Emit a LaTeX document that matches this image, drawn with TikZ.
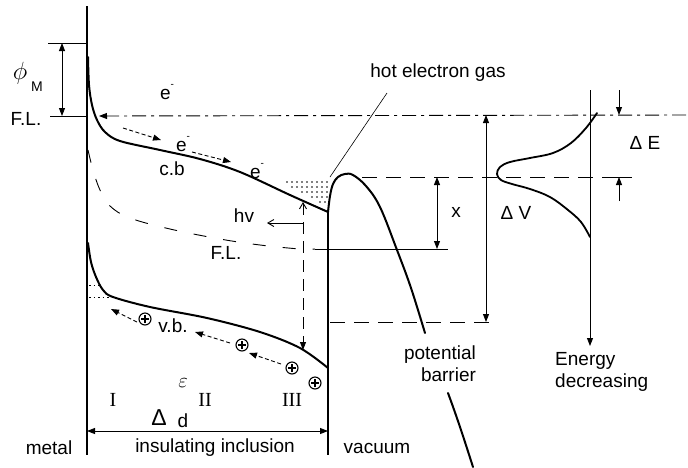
\documentclass[tikz,border=0pt]{standalone}
\usepackage{fontspec}
\setmainfont{Liberation Sans}
\newfontfamily\tnr{Liberation Serif}
\usetikzlibrary{arrows.meta}
\begin{document}
\begin{tikzpicture}[x=1pt,y=-1pt,
  txt/.style={font=\fontsize{19}{22}\selectfont, inner sep=0pt, text=black},
  ser/.style={font=\tnr\fontsize{20}{22}\selectfont, inner sep=0pt},
  band/.style={line width=2pt, line join=round, line cap=round},
  fine/.style={line width=0.9pt},
  fa/.style={-{Triangle[length=8pt,width=6pt]}},
  dfa/.style={{Triangle[length=8pt,width=6pt]}-{Triangle[length=8pt,width=6pt]}},
  dshort/.style={dash pattern=on 4pt off 2.5pt},
  dlong/.style={dash pattern=on 15pt off 9pt},
  dfl/.style={dash pattern=on 13pt off 17pt},
  dashdot/.style={dash pattern=on 14pt off 5pt on 3pt off 5pt},
  hole/.style={circle, draw, line width=1.1pt, minimum size=12pt, inner sep=0pt,
    path picture={\draw[line width=1.1pt] ([xshift=-4pt]path picture bounding box.center) -- ([xshift=4pt]path picture bounding box.center);
                  \draw[line width=1.1pt] ([yshift=-4pt]path picture bounding box.center) -- ([yshift=4pt]path picture bounding box.center);}},
]
\fill[white] (0,0) rectangle (688,467);
\useasboundingbox (0,0) rectangle (688,467);

% walls
\coordinate (mwT) at (87,6);
\coordinate (mwB) at (87,455);
\draw[line width=1.5pt] (mwT) -- (mwB);
\coordinate (iwT) at (328,212);
\coordinate (iwB) at (328,455);
\draw[line width=2pt] (iwT) -- (iwB);

% phi_M
\coordinate (phT) at (48,43);
\coordinate (phTw) at (87,43);
\draw[fine] (phT) -- (phTw);
\coordinate (phA) at (62,43);
\coordinate (phB) at (62,116);
\draw[fine,dfa] (phA) -- (phB);
\node[txt,font=\fontsize{25}{25}\selectfont] (phi) at (20,73) {$\phi$};
\node[txt,font=\fontsize{14}{16}\selectfont] (phiM) at (37,87) {M};

% metal Fermi level
\node[txt] (fl1) at (26,119) {F.L.};
\coordinate (flS) at (50,116);
\coordinate (flW) at (87,116);
\draw[fine] (flS) -- (flW);
\coordinate (flE) at (686,115);
\coordinate (flT) at (99,116);
\draw[fine,dashdot,fa] (flE) -- (flT);

% conduction band
\draw[band] plot[smooth,tension=0.55] coordinates {(88,57) (89,85) (92,105) (97,120) (105,132) (120,141) (160,150) (200,159) (240,172) (290,195) (328,212)};
\coordinate (a1s) at (123,128); \coordinate (a1e) at (161,140);
\draw[fine,dshort,fa] (a1s) -- (a1e);
\coordinate (a2s) at (192,152); \coordinate (a2e) at (231,162);
\draw[fine,dshort,fa] (a2s) -- (a2e);
\node[txt] (e1) at (167,92) {e\raisebox{1.2ex}{\fontsize{10}{10}\selectfont -}};
\node[txt] (e2) at (183,144) {e\raisebox{1.2ex}{\fontsize{10}{10}\selectfont -}};
\node[txt] (e3) at (257,171) {e\raisebox{1.2ex}{\fontsize{10}{10}\selectfont -}};
\node[txt] (cb) at (172,169) {c.b};

% hot electron gas
\node[txt] (heg) at (438,73) {hot electron gas};
\coordinate (hl1) at (387,93);
\coordinate (hl2) at (330,177);
\draw[line width=0.6pt] (hl1) -- (hl2);
\foreach \x in {287,292,...,327} \fill (\x,182) circle (0.8);
\foreach \x in {292,297,...,327} \fill (\x,187) circle (0.8);
\foreach \x in {302,307,...,327} \fill (\x,192) circle (0.8);
\foreach \x in {312,317,...,327} \fill (\x,197) circle (0.8);
\foreach \x in {320,325} \fill (\x,202) circle (0.8);

% potential barrier
\draw[band] plot[smooth,tension=0.6] coordinates {(328,212) (330,196) (333,184) (338,177) (345,174) (353,175) (366,186) (380,207) (397,250) (411,288) (425,333)};
\draw[band] (448,393) .. controls (458,420) and (465,442) .. (473,467);
\node[txt,align=right] (pb) at (440,364) {potential\\barrier};

% levels
\coordinate (d1s) at (362,177);
\coordinate (d1e) at (617,177);
\draw[fine,dlong] (d1s) -- (d1e);
\coordinate (t1) at (632,177);
\draw[fine] (d1e) -- (t1);
\coordinate (xa) at (437,177);
\coordinate (xb) at (437,249);
\draw[fine,dfa] (xa) -- (xb);
\node[txt] (xl) at (456,212) {x};
\coordinate (s1) at (315,249);
\coordinate (s2) at (448,249);
\draw[fine] (s1) -- (s2);
\coordinate (d2s) at (330,322);
\coordinate (d2e) at (497,322);
\draw[fine,dlong] (d2s) -- (d2e);
\coordinate (va) at (486,115);
\coordinate (vb) at (486,322);
\draw[fine,dfa] (va) -- (vb);
\node[txt] (dv) at (516,213) {Δ V};

% distribution
\draw[band,line width=1.8pt] plot[smooth,tension=0.6] coordinates {(597,113) (586,128) (571,143) (553,153) (530,158) (510,162) (500,167) (497,174) (501,180) (512,184) (530,189) (550,197) (568,210) (581,222) (590,237)};

% energy axis
\coordinate (ea) at (590,90);
\coordinate (eb) at (590,346);
\draw[fine,fa] (ea) -- (eb);
\node[txt,align=left,anchor=north west] (en) at (555,352) {Energy\\decreasing};

% Delta E
\coordinate (de1) at (619,90);
\coordinate (de2) at (619,115);
\draw[fine,fa] (de1) -- (de2);
\coordinate (de3) at (619,201);
\coordinate (de4) at (619,177);
\draw[fine,fa] (de3) -- (de4);
\node[txt] (de) at (645,143) {Δ E};

% lower Fermi level in insulator
\draw[fine,dfl] plot[smooth,tension=0.6] coordinates {(88,150) (93,170) (100,190) (110,206) (130,218) (170,229) (220,239) (260,245) (300,249) (315,249)};
\node[txt] (fl2) at (226,253) {F.L.};

% photon
\node[txt] (hv) at (244,216) {hv};
\coordinate (p1) at (303,223);
\coordinate (p2) at (267,223);
\draw[fine,-{Straight Barb[length=6pt,width=7pt]}] (p1) -- (p2);
\coordinate (vt) at (303,202);
\coordinate (vbt) at (303,350);
\draw[fine,dash pattern=on 12pt off 7pt,{Straight Barb[length=6pt,width=7pt]}-{Triangle[length=8pt,width=6pt]}] (vt) -- (vbt);

% valence band
\draw[band] plot[smooth,tension=0.55] coordinates {(88,243) (91,262) (96,277) (103,290) (113,297) (150,307) (207,318) (260,332) (300,348) (328,368)};
\draw[line width=0.8pt,dash pattern=on 1.5pt off 3pt] (89,285) -- (100,285);
\draw[line width=0.8pt,dash pattern=on 1.5pt off 3pt] (89,297) -- (112,297);

% holes
\node[hole] (h1) at (145,319) {};
\node[hole] (h2) at (242,345) {};
\node[hole] (h3) at (292,368) {};
\node[hole] (h4) at (315,383) {};
\coordinate (b1s) at (137,322); \coordinate (b1e) at (111,309);
\draw[fine,dshort,fa] (b1s) -- (b1e);
\coordinate (b2s) at (230,343); \coordinate (b2e) at (195,332);
\draw[fine,dshort,fa] (b2s) -- (b2e);
\coordinate (b3s) at (281,364); \coordinate (b3e) at (249,353);
\draw[fine,dshort,fa] (b3s) -- (b3e);
\node[txt] (vbl) at (173,326) {v.b.};

% regions
\node[txt,font=\fontsize{20}{22}\selectfont] (eps) at (183,383) {$\varepsilon$};
\node[ser] (r1) at (113,400) {I};
\node[ser] (r2) at (205,400) {II};
\node[ser] (r3) at (292,400) {III};
\node[txt,font=\fontsize{23}{23}\selectfont] (dl) at (159,418) {Δ};
\node[txt] (dd) at (183,421) {d};
\coordinate (da) at (87,431);
\coordinate (db) at (328,431);
\draw[fine,dfa] (da) -- (db);

% bottom labels
\node[txt] (metal) at (49,448) {metal};
\node[txt] (ins) at (215,448) {insulating inclusion};
\node[txt] (vac) at (377,448) {vacuum};
\end{tikzpicture}
\end{document}
